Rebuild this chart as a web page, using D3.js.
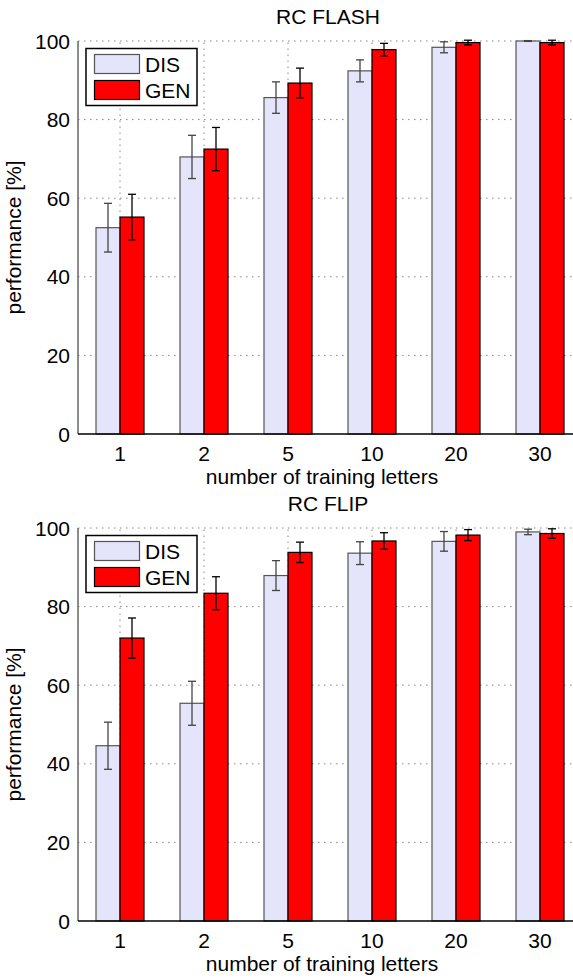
<!DOCTYPE html>
<html>
<head>
<meta charset="utf-8">
<script src="https://d3js.org/d3.v7.min.js"></script>
<style>
  body { margin: 0; background: #fff; }
  text { font-family: "Liberation Sans", Arial, Helvetica, sans-serif; fill: #000; }
</style>
</head>
<body>
<script>
// chart values
const categories = ["1", "2", "5", "10", "20", "30"]
const seriesNames = ["DIS", "GEN"]
const yTicks = [0, 20, 40, 60, 80, 100]

const flashDis = [52.5, 70.5, 85.6, 92.4, 98.4, 100]
const flashDisErr = [6.2, 5.5, 4.0, 2.8, 1.4, 0.1]
const flashGen = [55.2, 72.5, 89.3, 97.8, 99.6, 99.6]
const flashGenErr = [5.8, 5.5, 3.8, 1.6, 0.6, 0.6]

const flipDis = [44.6, 55.4, 87.9, 93.6, 96.6, 99.0]
const flipDisErr = [6.0, 5.6, 3.8, 2.9, 2.5, 0.7]
const flipGen = [72.0, 83.4, 93.8, 96.7, 98.2, 98.6]
const flipGenErr = [5.1, 4.2, 2.6, 2.1, 1.4, 1.2]

const W = 573, H = 978
const fs = 21
const fill = { DIS: "#e4e4fb", GEN: "#ff0000" }
const edge = { DIS: "#555", GEN: "#000" }
const errColor = { DIS: "#444", GEN: "#000" }

const svg = d3.select("body").append("svg")
    .attr("width", W)
    .attr("height", H)

// one panel: title, grid, bars, error bars, legend, axis labels
function drawPanel(title, dis, disErr, gen, genErr, top) {
    const left = 78, right = 582
    const y0 = top + 393, y1 = top   // pixel rows of 0 and 100

    const x = d3.scaleBand().domain(categories).range([left, right]).padding(0)
    const xs = d3.scaleBand().domain(seriesNames).range([-24, 24]).padding(0)
    const y = d3.scaleLinear().domain([0, 100]).range([y0, y1])

    const g = svg.append("g")

    // grid
    g.selectAll(".hgrid").data(yTicks.filter(d => d > 0)).enter().append("line")
        .attr("x1", left).attr("x2", right)
        .attr("y1", d => y(d)).attr("y2", d => y(d))
        .attr("stroke", "#888").attr("stroke-width", 1)
        .attr("stroke-dasharray", "1.5,4.5")
    g.selectAll(".vgrid").data(categories).enter().append("line")
        .attr("x1", d => x(d) + x.bandwidth() / 2).attr("x2", d => x(d) + x.bandwidth() / 2)
        .attr("y1", y0).attr("y2", y1)
        .attr("stroke", "#888").attr("stroke-width", 1)
        .attr("stroke-dasharray", "1.5,4.5")

    const rows = []
    categories.forEach((c, i) => {
        rows.push({ cat: c, s: "DIS", v: dis[i], e: disErr[i] })
        rows.push({ cat: c, s: "GEN", v: gen[i], e: genErr[i] })
    })
    const cx = d => x(d.cat) + x.bandwidth() / 2

    // bars
    g.selectAll(".bar").data(rows).enter().append("rect")
        .attr("x", d => cx(d) + xs(d.s))
        .attr("width", xs.bandwidth())
        .attr("y", d => y(d.v))
        .attr("height", d => y(0) - y(d.v))
        .attr("fill", d => fill[d.s])
        .attr("stroke", d => edge[d.s])
        .attr("stroke-width", 1.2)

    // error bars
    const eb = g.selectAll(".err").data(rows).enter().append("g")
        .attr("stroke", d => errColor[d.s]).attr("stroke-width", 1.3)
    const ex = d => cx(d) + xs(d.s) + xs.bandwidth() / 2
    const hi = d => y(Math.min(100.2, d.v + d.e))
    eb.append("line")
        .attr("x1", ex).attr("x2", ex)
        .attr("y1", hi).attr("y2", d => y(d.v - d.e))
    eb.append("line")
        .attr("x1", d => ex(d) - 4).attr("x2", d => ex(d) + 4)
        .attr("y1", hi).attr("y2", hi)
    eb.append("line")
        .attr("x1", d => ex(d) - 4).attr("x2", d => ex(d) + 4)
        .attr("y1", d => y(d.v - d.e)).attr("y2", d => y(d.v - d.e))

    // axes
    g.append("line").attr("x1", left).attr("x2", left).attr("y1", y0).attr("y2", y1)
        .attr("stroke", "#666").attr("stroke-width", 1.5)
    g.append("line").attr("x1", left).attr("x2", right).attr("y1", y0).attr("y2", y0)
        .attr("stroke", "#000").attr("stroke-width", 1.5)

    g.selectAll(".ytl").data(yTicks).enter().append("text")
        .attr("x", left - 8).attr("y", d => y(d) + 7.5)
        .attr("text-anchor", "end").attr("font-size", fs)
        .text(d => d)
    g.selectAll(".xtl").data(categories).enter().append("text")
        .attr("x", d => x(d) + x.bandwidth() / 2).attr("y", y0 + 27)
        .attr("text-anchor", "middle").attr("font-size", fs)
        .text(d => d)

    g.append("text").attr("x", 322).attr("y", y0 + 50)
        .attr("text-anchor", "middle").attr("font-size", fs)
        .text("number of training letters")
    g.append("text").attr("x", 328).attr("y", top - 17)
        .attr("text-anchor", "middle").attr("font-size", fs)
        .text(title)
    g.append("text")
        .attr("transform", `translate(21, ${(y0 + y1) / 2}) rotate(-90)`)
        .attr("text-anchor", "middle").attr("font-size", fs)
        .text("performance [%]")

    // legend
    const lg = g.append("g").attr("transform", `translate(86, ${top + 7.5})`)
    lg.append("rect").attr("width", 111).attr("height", 57)
        .attr("fill", "#fff").attr("stroke", "#000").attr("stroke-width", 1.5)
    seriesNames.forEach((s, i) => {
        lg.append("rect").attr("x", 8.5).attr("y", 6 + i * 26).attr("width", 45).attr("height", 19)
            .attr("fill", fill[s]).attr("stroke", edge[s]).attr("stroke-width", 1.2)
        lg.append("text").attr("x", 59).attr("y", 23.5 + i * 26)
            .attr("font-size", fs).text(s)
    })
}

drawPanel("RC FLASH", flashDis, flashDisErr, flashGen, flashGenErr, 41)
drawPanel("RC FLIP", flipDis, flipDisErr, flipGen, flipGenErr, 528)
</script>
</body>
</html>
